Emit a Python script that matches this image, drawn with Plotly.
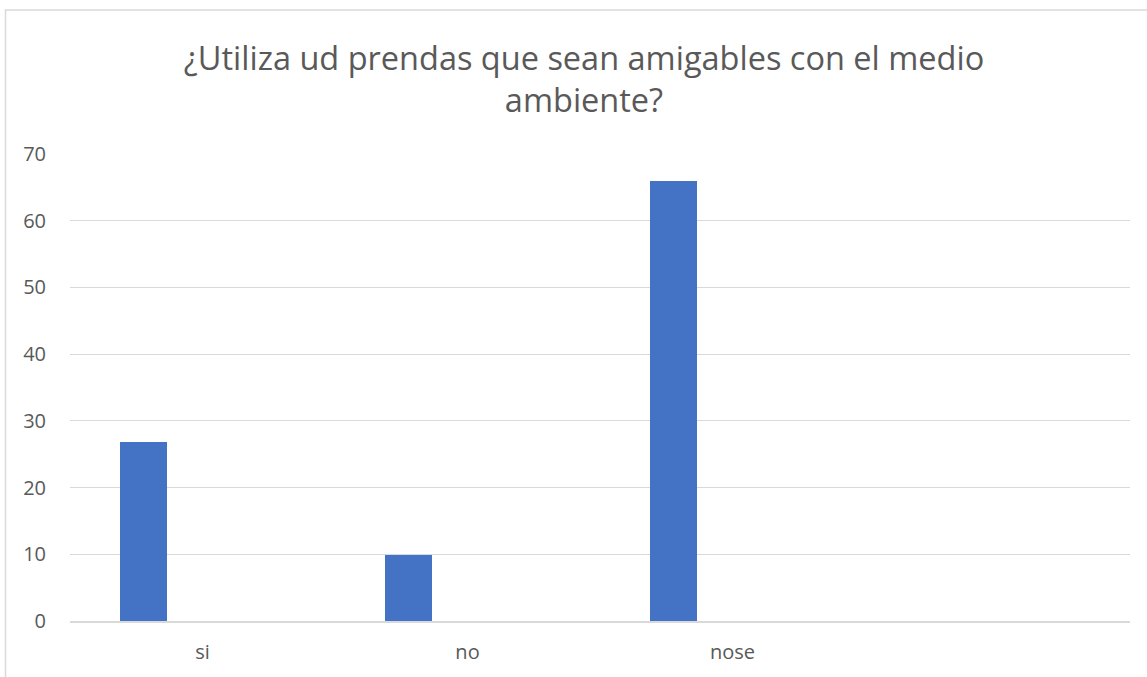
import plotly.graph_objects as go

categories = ["si", "no", "nose"]
values = [26.8, 9.9, 65.9]
title_text = "¿Utiliza ud prendas que sean amigables con el medio<br>ambiente?"

W, H = 1147, 677
ml, mr, mt, mb = 70, 17, 154, 56
pw = W - ml - mr
ph = H - mt - mb

fig = go.Figure()
fig.add_trace(go.Bar(
    x=categories, y=values,
    marker=dict(color="#4472C4", line=dict(width=0)),
    width=0.175, offset=-0.31,
    hoverinfo="x+y",
))

grey = "#595959"
fig.update_layout(
    template="none",
    width=W, height=H,
    margin=dict(l=ml, r=mr, t=mt, b=mb, autoexpand=False),
    paper_bgcolor="white", plot_bgcolor="white",
    font=dict(family="Open Sans, Liberation Sans, sans-serif", color=grey, size=20),
    title=dict(text=title_text, x=584 / W, xanchor="center", y=1 - 70 / H, yanchor="middle",
               font=dict(size=32.5, color=grey)),
    showlegend=False,
    bargap=0,
    xaxis=dict(type="category", range=[-0.5, 3.5], showgrid=False, automargin=False,
               showline=True, linecolor="#d9d9d9", linewidth=1.5,
               ticks="", ticklabelstandoff=12,
               tickfont=dict(size=20, color=grey), fixedrange=True),
    yaxis=dict(range=[0, 70], dtick=10, showgrid=True, gridcolor="#d9d9d9", gridwidth=1.3,
               automargin=False,
               zeroline=False, showline=False, ticks="", ticklabelstandoff=23,
               tickfont=dict(size=20, color=grey), fixedrange=True),
    shapes=[dict(type="rect", xref="paper", yref="paper",
                 x0=(5.5 - ml) / pw, x1=(W + 5 - ml) / pw,
                 y0=-(mb + 5) / ph, y1=1 + (mt - 10) / ph,
                 line=dict(color="#d9d9d9", width=1.5), fillcolor="rgba(0,0,0,0)", layer="below")],
)

fig.write_html("out.html", config={"displayModeBar": False},
               post_script="document.body.style.margin='0';")
